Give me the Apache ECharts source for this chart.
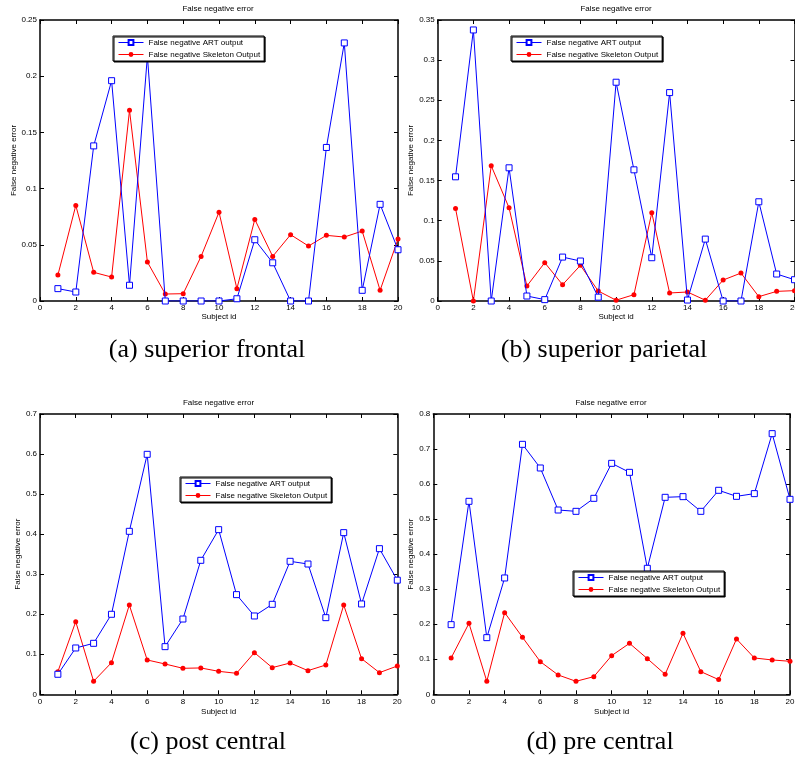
<!DOCTYPE html>
<html>
<head>
<meta charset="utf-8">
<title>False negative error</title>
<script src="https://cdn.jsdelivr.net/npm/echarts@6/dist/echarts.min.js"></script>
<style>
    html, body { margin: 0; padding: 0; background: #fff; }
    #MyChart { width: 795px; height: 761px; }
</style>
</head>
<body>
<div id="MyChart"></div>
<script>
// subject ids on the x axis
var subjectIds = [1, 2, 3, 4, 5, 6, 7, 8, 9, 10, 11, 12, 13, 14, 15, 16, 17, 18, 19, 20];

// (a) superior frontal
var artFrontal = [0.011, 0.008, 0.138, 0.196, 0.014, 0.218, 0, 0, 0, 0, 0.002, 0.0545, 0.034, 0, 0, 0.1366, 0.2296, 0.0095, 0.086, 0.0456];
var skelFrontal = [0.0231, 0.085, 0.0255, 0.0213, 0.1697, 0.0347, 0.0062, 0.0065, 0.0397, 0.079, 0.011, 0.0726, 0.0397, 0.059, 0.0489, 0.0584, 0.0569, 0.0622, 0.0095, 0.0551];

// (b) superior parietal
var artParietal = [0.1547, 0.3376, 0, 0.1659, 0.0062, 0.0017, 0.0547, 0.0498, 0.0048, 0.2725, 0.1634, 0.0539, 0.2596, 0.0012, 0.0771, 0, 0, 0.1236, 0.0336, 0.0265];
var skelParietal = [0.1153, 0, 0.1684, 0.1161, 0.0187, 0.0477, 0.0203, 0.0444, 0.0124, 0.001, 0.0079, 0.1099, 0.01, 0.0112, 0.001, 0.0261, 0.0348, 0.0054, 0.012, 0.0129];

// (c) post central
var artPost = [0.05, 0.1157, 0.1273, 0.1998, 0.407, 0.5993, 0.119, 0.188, 0.3346, 0.4112, 0.2489, 0.1956, 0.2247, 0.3321, 0.3254, 0.1914, 0.4037, 0.2256, 0.3637, 0.285];
var skelPost = [0.0566, 0.1814, 0.0325, 0.079, 0.223, 0.0857, 0.0757, 0.0649, 0.0658, 0.0574, 0.0524, 0.104, 0.0666, 0.0782, 0.0591, 0.0732, 0.223, 0.089, 0.0541, 0.0707];

// (d) pre central
var artPre = [0.1988, 0.5508, 0.1617, 0.332, 0.7134, 0.6459, 0.526, 0.5222, 0.5593, 0.6592, 0.6335, 0.3596, 0.5622, 0.5641, 0.5222, 0.5822, 0.565, 0.5727, 0.7439, 0.5565];
var skelPre = [0.1037, 0.2026, 0.0371, 0.2331, 0.1627, 0.0932, 0.0552, 0.0371, 0.0504, 0.1103, 0.1455, 0.1018, 0.0571, 0.1741, 0.0647, 0.0419, 0.1579, 0.1037, 0.098, 0.0942];

var seriesNames = ['False negative ART output', 'False negative Skeleton Output'];
var titleText = 'False negative error';
var xName = 'Subject id';
var yName = 'False negative error';
var captions = ['(a) superior frontal', '(b) superior parietal', '(c) post central', '(d) pre central'];

var FONT = 'Liberation Sans';

// pair subject ids with values
function toPairs(values) {
    var out = [];
    for (var i = 0; i < subjectIds.length; i++) {
        out.push([subjectIds[i], values[i]]);
    }
    return out;
}

// one axis, with labels or just a mirrored box side
function makeAxis(dim, gridIndex, pos, max, interval, withLabels, nameGap) {
    var axis = {
        type: 'value',
        gridIndex: gridIndex,
        position: pos,
        min: 0,
        max: max,
        interval: interval,
        splitLine: { show: false },
        axisLine: { show: true, onZero: false, lineStyle: { color: '#000', width: 1.5 } },
        axisTick: { show: true, inside: true, length: 4, lineStyle: { color: '#000', width: 1 } },
        axisLabel: { show: withLabels, color: '#000', fontFamily: FONT, fontSize: 8, margin: 3 }
    };
    if (withLabels) {
        axis.name = dim === 'x' ? xName : yName;
        axis.nameLocation = 'middle';
        axis.nameGap = nameGap;
        axis.nameTextStyle = { color: '#000', fontFamily: FONT, fontSize: 8 };
        if (dim === 'y') {
            axis.nameRotate = 90;
        }
    }
    return axis;
}

var panels = [
    { grid: { left: 40, top: 20, width: 358, height: 281 }, yMax: 0.25, yInt: 0.05, art: artFrontal, skel: skelFrontal,
      legend: { left: 113, top: 36 }, yGap: 22, xGap: 11.5, titleX: 218, titleY: 10, capX: 207, capY: 350 },
    { grid: { left: 437.7, top: 20, width: 356.8, height: 281 }, yMax: 0.35, yInt: 0.05, art: artParietal, skel: skelParietal,
      legend: { left: 511, top: 36 }, yGap: 21, xGap: 11.5, titleX: 616, titleY: 10, capX: 604, capY: 350 },
    { grid: { left: 40, top: 414, width: 357.3, height: 280.3 }, yMax: 0.7, yInt: 0.1, art: artPost, skel: skelPost,
      legend: { left: 180, top: 477 }, yGap: 17, xGap: 13.5, titleX: 218.5, titleY: 404, capX: 208, capY: 742 },
    { grid: { left: 433.3, top: 414, width: 356.7, height: 280.3 }, yMax: 0.8, yInt: 0.1, art: artPre, skel: skelPre,
      legend: { left: 573, top: 571 }, yGap: 17.5, xGap: 13.5, titleX: 611, titleY: 404, capX: 600, capY: 742 }
];

var option = {
    animation: false,
    backgroundColor: '#fff',
    grid: [], xAxis: [], yAxis: [], series: [], legend: [], title: [], graphic: []
};

for (var p = 0; p < panels.length; p++) {
    var pn = panels[p];
    // keep the grid where it is, labels may run off the page
    pn.grid.outerBoundsMode = 'none';
    pn.grid.containLabel = false;
    option.grid.push(pn.grid);

    // bottom + top, left + right (MATLAB box)
    option.xAxis.push(makeAxis('x', p, 'bottom', 20, 2, true, pn.xGap));
    option.xAxis.push(makeAxis('x', p, 'top', 20, 2, false));
    option.yAxis.push(makeAxis('y', p, 'left', pn.yMax, pn.yInt, true, pn.yGap));
    option.yAxis.push(makeAxis('y', p, 'right', pn.yMax, pn.yInt, false));

    option.series.push({
        name: seriesNames[0],
        type: 'line',
        xAxisIndex: p * 2,
        yAxisIndex: p * 2,
        data: toPairs(pn.art),
        symbol: 'rect',
        symbolSize: 6,
        lineStyle: { color: '#0000ff', width: 1 },
        itemStyle: { color: '#fff', borderColor: '#0000ff', borderWidth: 1 },
        z: 3
    });
    option.series.push({
        name: seriesNames[1],
        type: 'line',
        xAxisIndex: p * 2,
        yAxisIndex: p * 2,
        data: toPairs(pn.skel),
        symbol: 'circle',
        symbolSize: 5,
        lineStyle: { color: '#ff0000', width: 1 },
        itemStyle: { color: '#ff0000' },
        z: 2
    });

    option.legend.push({
        data: seriesNames,
        orient: 'vertical',
        left: pn.legend.left,
        top: pn.legend.top,
        itemWidth: 25,
        itemHeight: 6,
        itemGap: 3,
        padding: [2, 4, 2, 5],
        backgroundColor: '#fff',
        borderColor: '#000',
        borderWidth: 1,
        borderRadius: 0,
        shadowColor: '#000',
        shadowOffsetX: 1,
        shadowOffsetY: 1,
        shadowBlur: 0,
        selectedMode: false,
        lineStyle: { width: 1 },
        textStyle: { color: '#000', fontFamily: FONT, fontSize: 8, lineHeight: 9 },
        z: 10
    });

    option.title.push({
        text: titleText,
        left: pn.titleX,
        top: pn.titleY - 5,
        textAlign: 'center',
        padding: 0,
        textStyle: { color: '#000', fontFamily: FONT, fontSize: 8, fontWeight: 'normal' }
    });

    option.graphic.push({
        type: 'text',
        x: pn.capX,
        y: pn.capY,
        style: {
            text: captions[p],
            fill: '#000',
            font: '26px "Liberation Serif"',
            textAlign: 'center',
            textVerticalAlign: 'middle'
        }
    });
}

var myChart = echarts.init(document.getElementById('MyChart'));
myChart.setOption(option);
</script>
</body>
</html>
